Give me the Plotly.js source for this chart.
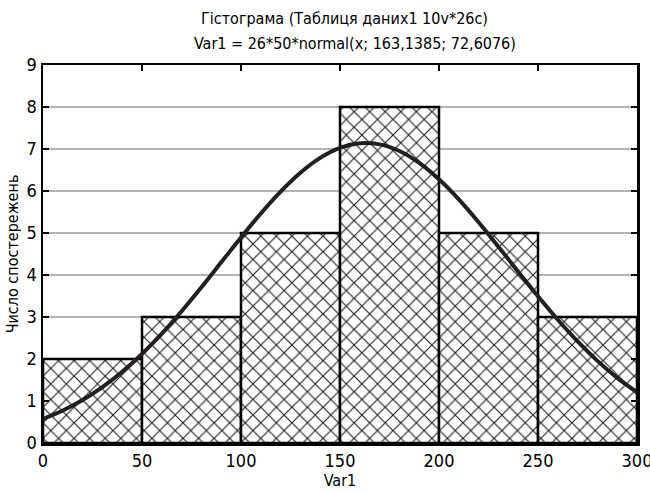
<!DOCTYPE html>
<html>
<head>
<meta charset="utf-8">
<script src="https://cdn.plot.ly/plotly-3.0.1.min.js"></script>
<style>html,body{margin:0;padding:0;background:#fff;}#chart{width:650px;height:493px;}</style>
</head>
<body>
<div id="chart"></div>
<script>
// Histogram bins (Var1) and observed counts
const binCenters = [25, 75, 125, 175, 225, 275];
const counts = [2, 3, 5, 8, 5, 3];
// Fitted normal curve values read along Var1 (26*50*normal(x; 163.1385; 72.6076))
const curveX = [0,10,20,30,40,50,60,70,80,90,100,110,120,130,140,150,160,170,180,190,200,210,220,230,240,250,260,270,280,290,300];
const curveY = [0.572,0.773,1.023,1.330,1.696,2.122,2.604,3.137,3.708,4.301,4.894,5.465,5.987,6.436,6.789,7.027,7.136,7.111,6.953,6.670,6.279,5.800,5.257,4.675,4.079,3.492,2.934,2.418,1.956,1.552,1.209];
const xTicks = [0, 50, 100, 150, 200, 250, 300];
const yTicks = [0,1,2,3,4,5,6,7,8,9];
const titleLines = ["Гістограма (Таблиця даних1 10v*26c)", "Var1 = 26*50*normal(x; 163,1385; 72,6076)"];

const FONT = "'DejaVu Sans Condensed', 'Liberation Sans Narrow', 'Roboto Condensed', sans-serif";

const traces = [
  {
    type: 'bar', x: binCenters, y: counts, width: 50,
    marker: {color: 'rgba(255,255,255,1)', line: {color: '#000', width: 2.5},
      pattern: {shape: 'x', size: 11, solidity: 0.2, fgcolor: '#222', bgcolor: '#fff'}},
    hoverinfo: 'skip', showlegend: false
  },
  {
    type: 'scatter', mode: 'lines', x: curveX, y: curveY,
    line: {color: '#231f20', width: 4, shape: 'spline'},
    showlegend: false, hoverinfo: 'skip'
  }
];

const layout = {
  width: 650, height: 493,
  margin: {l: 43, r: 13, t: 65, b: 50},
  paper_bgcolor: '#fff', plot_bgcolor: '#fff',
  font: {family: FONT, size: 16, color: '#000'},
  title: {text: titleLines[0], x: 0.53, xanchor: 'center', yref: 'container', y: 1 - 18/493, yanchor: 'middle',
    font: {family: FONT, size: 16, color: '#000'}},
  annotations: [{
    text: titleLines[1], xref: 'paper', x: 0.525, xanchor: 'center',
    yref: 'paper', y: 1, yshift: 22, yanchor: 'middle', showarrow: false,
    font: {family: FONT, size: 16, color: '#000'}
  }],
  bargap: 0,
  xaxis: {
    range: [0, 300], tickvals: xTicks, ticktext: xTicks.map(String),
    ticks: 'inside', ticklen: 6, tickwidth: 2, tickcolor: '#000',
    showline: true, linecolor: '#000', linewidth: 2.5, mirror: 'ticks',
    showgrid: false, zeroline: false, ticklabeloverflow: 'allow',
    title: {text: 'Var1', font: {family: FONT, size: 16}, standoff: 2},
    tickfont: {family: FONT, size: 18}
  },
  yaxis: {
    range: [0, 9], tickvals: yTicks, ticktext: yTicks.map(String),
    ticks: 'inside', ticklen: 6, tickwidth: 2, tickcolor: '#000',
    showline: true, linecolor: '#000', linewidth: 2.5, mirror: 'ticks',
    showgrid: true, gridcolor: '#b4b4b4', gridwidth: 1.5, zeroline: false,
    title: {text: 'Число спостережень', font: {family: FONT, size: 16}, standoff: 4},
    tickfont: {family: FONT, size: 18}
  }
};

Plotly.newPlot('chart', traces, layout, {displayModeBar: false, staticPlot: true});
</script>
</body>
</html>
